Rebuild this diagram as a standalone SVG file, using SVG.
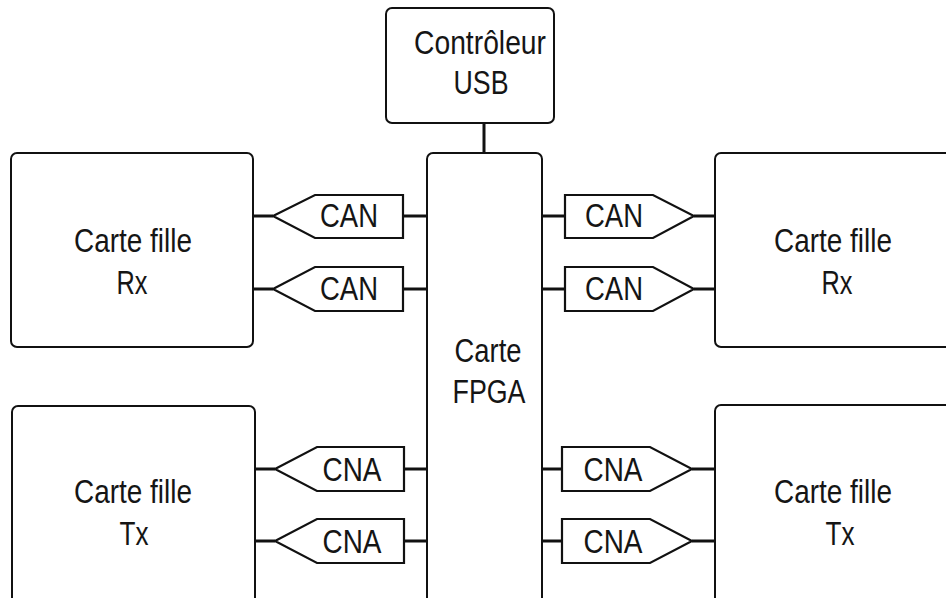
<svg xmlns="http://www.w3.org/2000/svg" width="946" height="598" viewBox="0 0 946 598">
<style>
.box{fill:#fff;stroke:#111;stroke-width:2}
.conv{fill:#fff;stroke:#111;stroke-width:2.2;stroke-linejoin:miter}
.wire{stroke:#111;stroke-width:3;fill:none}
text{font-family:"Liberation Sans",Arial,sans-serif;font-size:33px;fill:#151515;text-anchor:middle}
</style>
<rect width="946" height="598" fill="#fff"/>
<g id="connectors">
<line class="wire" x1="484" y1="123" x2="484" y2="154"/>
<line class="wire" x1="253" y1="216" x2="273" y2="216"/>
<line class="wire" x1="403" y1="216" x2="427" y2="216"/>
<line class="wire" x1="253" y1="289" x2="273" y2="289"/>
<line class="wire" x1="403" y1="289" x2="427" y2="289"/>
<line class="wire" x1="254" y1="469" x2="275" y2="469"/>
<line class="wire" x1="404" y1="469" x2="427" y2="469"/>
<line class="wire" x1="254" y1="541" x2="275" y2="541"/>
<line class="wire" x1="404" y1="541" x2="427" y2="541"/>
<line class="wire" x1="542" y1="216" x2="565" y2="216"/>
<line class="wire" x1="694" y1="216" x2="715" y2="216"/>
<line class="wire" x1="542" y1="289" x2="565" y2="289"/>
<line class="wire" x1="694" y1="289" x2="715" y2="289"/>
<line class="wire" x1="542" y1="469" x2="562" y2="469"/>
<line class="wire" x1="692" y1="469" x2="715" y2="469"/>
<line class="wire" x1="542" y1="541" x2="562" y2="541"/>
<line class="wire" x1="692" y1="541" x2="715" y2="541"/>
</g>
<g id="usb">
<rect class="box" x="386" y="8" width="168" height="115" rx="6"/>
<text x="480" y="54" textLength="132" lengthAdjust="spacingAndGlyphs">Contrôleur</text>
<text x="481" y="94" textLength="55" lengthAdjust="spacingAndGlyphs">USB</text>
</g>
<g id="fpga">
<rect class="box" x="427" y="153" width="115" height="460" rx="6"/>
<text x="488" y="362" textLength="67" lengthAdjust="spacingAndGlyphs">Carte</text>
<text x="489" y="403" textLength="73" lengthAdjust="spacingAndGlyphs">FPGA</text>
</g>
<g id="rx-left">
<rect class="box" x="11" y="153" width="242" height="194" rx="6"/>
<text x="133" y="252" textLength="118" lengthAdjust="spacingAndGlyphs">Carte fille</text>
<text x="132" y="294" textLength="31" lengthAdjust="spacingAndGlyphs">Rx</text>
</g>
<g id="tx-left">
<rect class="box" x="12" y="406" width="243" height="220" rx="6"/>
<text x="133" y="503" textLength="118" lengthAdjust="spacingAndGlyphs">Carte fille</text>
<text x="134" y="545" textLength="29" lengthAdjust="spacingAndGlyphs">Tx</text>
</g>
<g id="rx-right">
<rect class="box" x="715" y="153" width="260" height="194" rx="6"/>
<text x="833" y="252" textLength="118" lengthAdjust="spacingAndGlyphs">Carte fille</text>
<text x="837" y="294" textLength="31" lengthAdjust="spacingAndGlyphs">Rx</text>
</g>
<g id="tx-right">
<rect class="box" x="715" y="405" width="260" height="220" rx="6"/>
<text x="833" y="503" textLength="118" lengthAdjust="spacingAndGlyphs">Carte fille</text>
<text x="840" y="545" textLength="29" lengthAdjust="spacingAndGlyphs">Tx</text>
</g>
<g id="can-l1">
<polygon class="conv" points="273,216 315,195 403,195 403,238 315,238"/>
<text x="349" y="227" textLength="58" lengthAdjust="spacingAndGlyphs">CAN</text>
</g>
<g id="can-l2">
<polygon class="conv" points="273,289 315,267 403,267 403,311 315,311"/>
<text x="349" y="300" textLength="58" lengthAdjust="spacingAndGlyphs">CAN</text>
</g>
<g id="cna-l1">
<polygon class="conv" points="275,469 317,447 404,447 404,491 317,491"/>
<text x="352" y="481" textLength="59" lengthAdjust="spacingAndGlyphs">CNA</text>
</g>
<g id="cna-l2">
<polygon class="conv" points="275,541 317,519 404,519 404,563 317,563"/>
<text x="352" y="553" textLength="59" lengthAdjust="spacingAndGlyphs">CNA</text>
</g>
<g id="can-r1">
<polygon class="conv" points="565,195 653,195 694,216 653,238 565,238"/>
<text x="614" y="227" textLength="58" lengthAdjust="spacingAndGlyphs">CAN</text>
</g>
<g id="can-r2">
<polygon class="conv" points="565,267 653,267 694,289 653,311 565,311"/>
<text x="614" y="300" textLength="58" lengthAdjust="spacingAndGlyphs">CAN</text>
</g>
<g id="cna-r1">
<polygon class="conv" points="562,447 650,447 692,469 650,491 562,491"/>
<text x="613" y="481" textLength="59" lengthAdjust="spacingAndGlyphs">CNA</text>
</g>
<g id="cna-r2">
<polygon class="conv" points="562,519 650,519 692,541 650,563 562,563"/>
<text x="613" y="553" textLength="59" lengthAdjust="spacingAndGlyphs">CNA</text>
</g>
</svg>
